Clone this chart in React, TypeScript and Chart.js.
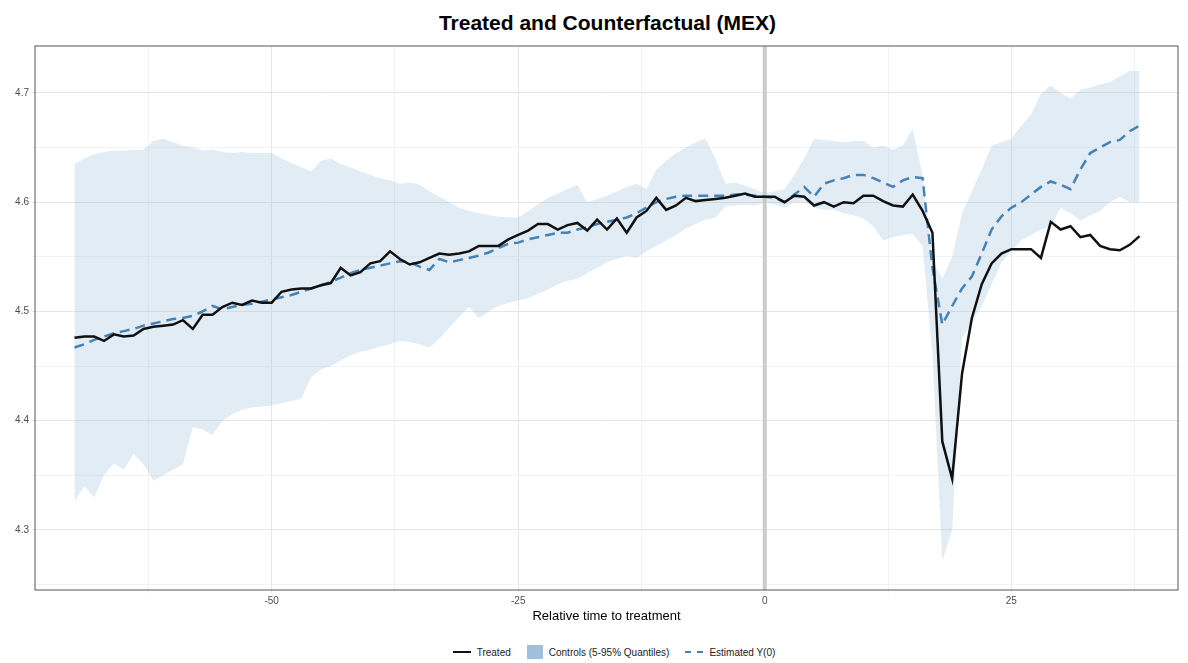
import { useEffect, useRef } from "react";
import { Chart, registerables } from "chart.js";

Chart.register(...registerables);

const times: number[] = [];
for (let t = -70; t <= 38; t++) times.push(t);

const treated = [
  4.476, 4.477, 4.477, 4.473, 4.479, 4.477, 4.478, 4.484, 4.486, 4.487,
  4.488, 4.492, 4.484, 4.497, 4.497, 4.504, 4.508, 4.506, 4.51, 4.508,
  4.508, 4.518, 4.52, 4.521, 4.521, 4.524, 4.526, 4.54, 4.533, 4.536,
  4.544, 4.546, 4.555, 4.548, 4.543, 4.545, 4.549, 4.553, 4.552, 4.553,
  4.555, 4.56, 4.56, 4.56, 4.566, 4.57, 4.574, 4.58, 4.58, 4.575,
  4.579, 4.581, 4.574, 4.584, 4.575, 4.585, 4.572, 4.586, 4.592, 4.604,
  4.593, 4.597, 4.604, 4.601, 4.602, 4.603, 4.604, 4.606, 4.608, 4.605,
  4.605, 4.605, 4.6, 4.606, 4.605, 4.597, 4.6, 4.596, 4.6, 4.599,
  4.606, 4.606, 4.601, 4.597, 4.596, 4.607, 4.592, 4.572, 4.381, 4.347,
  4.443, 4.494, 4.525, 4.544, 4.553, 4.557, 4.557, 4.557, 4.549, 4.582,
  4.575, 4.578, 4.568, 4.57, 4.56, 4.557, 4.556, 4.561, 4.569,
];

const estimated = [
  4.467, 4.47, 4.474, 4.477, 4.48, 4.482, 4.484, 4.487, 4.489, 4.491,
  4.493, 4.494, 4.496, 4.5, 4.505, 4.502, 4.504, 4.506, 4.507, 4.509,
  4.511, 4.513, 4.515, 4.518, 4.521, 4.524, 4.527, 4.531, 4.535, 4.538,
  4.54, 4.542, 4.544, 4.546, 4.545, 4.541, 4.538, 4.548, 4.545, 4.547,
  4.549, 4.551, 4.554, 4.558, 4.562, 4.563, 4.566, 4.568, 4.57, 4.572,
  4.572, 4.575, 4.577, 4.58, 4.582, 4.584, 4.586, 4.59, 4.595, 4.6,
  4.603, 4.605, 4.606, 4.606, 4.606, 4.606, 4.606, 4.607, 4.607, 4.606,
  4.605, 4.604, 4.6, 4.607, 4.614, 4.605, 4.617, 4.62, 4.622, 4.625,
  4.625, 4.622, 4.618, 4.614, 4.62, 4.623, 4.622, 4.54, 4.488, 4.505,
  4.521, 4.532, 4.553, 4.575, 4.587, 4.595, 4.6, 4.607, 4.614, 4.619,
  4.616, 4.612, 4.63, 4.645, 4.65, 4.655, 4.657, 4.665, 4.67,
];

const upper = [
  4.635, 4.64, 4.644, 4.646, 4.647, 4.647, 4.648, 4.648, 4.656, 4.658,
  4.655, 4.652, 4.65, 4.647, 4.648, 4.646, 4.645, 4.646, 4.645, 4.645,
  4.645, 4.64, 4.636, 4.632, 4.628, 4.638, 4.64, 4.635, 4.632, 4.628,
  4.625, 4.622, 4.62, 4.617, 4.618, 4.616, 4.61, 4.605, 4.6, 4.595,
  4.592, 4.59, 4.588, 4.587, 4.586, 4.586, 4.592, 4.598, 4.604, 4.608,
  4.612, 4.616, 4.6, 4.603, 4.606, 4.61, 4.614, 4.617, 4.612, 4.63,
  4.638, 4.645, 4.65, 4.655, 4.658, 4.64, 4.617, 4.618, 4.615, 4.612,
  4.608, 4.61, 4.612, 4.625, 4.64, 4.658, 4.657, 4.656, 4.655, 4.656,
  4.656, 4.65, 4.652, 4.648, 4.652, 4.667, 4.625, 4.546, 4.53, 4.55,
  4.59, 4.61, 4.63, 4.652, 4.655, 4.658, 4.67, 4.68, 4.699, 4.707,
  4.7, 4.695, 4.703, 4.705, 4.708, 4.71, 4.715, 4.72, 4.72,
];

const lower = [
  4.326, 4.34, 4.33, 4.35, 4.361, 4.355, 4.37, 4.36, 4.345, 4.35,
  4.355, 4.36, 4.394, 4.392, 4.387, 4.4, 4.406, 4.41, 4.412, 4.413,
  4.414, 4.416, 4.418, 4.42, 4.44, 4.447, 4.45, 4.455, 4.46, 4.463,
  4.465, 4.468, 4.47, 4.473, 4.472, 4.47, 4.467, 4.475, 4.485, 4.495,
  4.504, 4.494, 4.5, 4.505, 4.508, 4.51, 4.512, 4.516, 4.52, 4.525,
  4.528, 4.53, 4.535, 4.54, 4.545, 4.548, 4.551, 4.549, 4.555, 4.56,
  4.565, 4.57, 4.576, 4.58, 4.584, 4.586, 4.596, 4.597, 4.598, 4.597,
  4.6, 4.598, 4.595, 4.6, 4.6, 4.595, 4.593, 4.593, 4.59, 4.588,
  4.585, 4.578, 4.565, 4.568, 4.57, 4.571, 4.56, 4.46, 4.272, 4.3,
  4.476, 4.49, 4.505, 4.525, 4.545, 4.555, 4.565, 4.57, 4.575, 4.578,
  4.595, 4.59, 4.583, 4.588, 4.592, 4.6, 4.605, 4.6, 4.6,
];

const FONT = "'Liberation Sans', Arial, sans-serif";

const treatmentLine = {
  id: "treatmentLine",
  beforeDatasetsDraw(chart: Chart) {
    const { ctx, chartArea, scales } = chart;
    const x = scales.x.getPixelForValue(0);
    ctx.save();
    ctx.strokeStyle = "#cccccc";
    ctx.lineWidth = 4;
    ctx.beginPath();
    ctx.moveTo(x, chartArea.top);
    ctx.lineTo(x, chartArea.bottom);
    ctx.stroke();
    ctx.restore();
  },
  afterDraw(chart: Chart) {
    const { ctx, chartArea } = chart;
    ctx.save();
    ctx.strokeStyle = "#555555";
    ctx.lineWidth = 1;
    ctx.strokeRect(chartArea.left, chartArea.top, chartArea.right - chartArea.left, chartArea.bottom - chartArea.top);
    ctx.restore();
  },
};

export default function App() {
  const canvasRef = useRef<HTMLCanvasElement>(null);
  const chartRef = useRef<Chart | null>(null);

  useEffect(() => {
    if (!canvasRef.current) return;
    if (chartRef.current) chartRef.current.destroy();

    const pts = (vals: number[]) => times.map((t, i) => ({ x: t, y: vals[i] }));

    chartRef.current = new Chart(canvasRef.current, {
      type: "line",
      data: {
        datasets: [
          {
            label: "upper",
            data: pts(upper),
            borderWidth: 0,
            pointRadius: 0,
            backgroundColor: "rgba(158,192,221,0.3)",
            fill: "+1",
            order: 4,
          },
          {
            label: "lower",
            data: pts(lower),
            borderWidth: 0,
            pointRadius: 0,
            fill: false,
            order: 3,
          },
          {
            label: "Estimated Y(0)",
            data: pts(estimated),
            borderColor: "#4682b4",
            borderWidth: 2.5,
            borderDash: [10, 6],
            pointRadius: 0,
            fill: false,
            order: 2,
          },
          {
            label: "Treated",
            data: pts(treated),
            borderColor: "#111111",
            borderWidth: 2.5,
            pointRadius: 0,
            fill: false,
            order: 1,
          },
        ],
      },
      options: {
        animation: false,
        responsive: true,
        maintainAspectRatio: false,
        layout: { padding: { left: 0, right: 2, top: 0, bottom: 0 } },
        plugins: { legend: { display: false }, tooltip: { enabled: false } },
        scales: {
          x: {
            type: "linear",
            min: -74,
            max: 41.9,
            afterFit: (s: any) => { s.height = 34; },
            afterBuildTicks: (s: any) => {
              const t = [];
              for (let v = -62.5; v <= 40; v += 12.5) t.push({ value: v });
              s.ticks = t;
            },
            ticks: {
              color: "#4d4d4d",
              font: { family: FONT, size: 10 },
              maxRotation: 0,
              autoSkip: false,
              padding: 2,
              callback: (v: any) => (Math.abs(v % 25) < 1e-6 ? String(v) : ""),
            },
            grid: {
              color: (c: any) => (Math.abs((c.tick?.value ?? 0) % 25) < 1e-6 ? "#e6e6e6" : "#f3f3f3"),
              drawTicks: true,
              tickLength: 3,
            },
            border: { display: false },
            title: {
              display: true,
              text: "Relative time to treatment",
              color: "#000",
              font: { family: FONT, size: 13 },
              padding: { top: 0, bottom: 0 },
            },
          },
          y: {
            type: "linear",
            min: 4.245,
            max: 4.743,
            afterFit: (s: any) => { s.width = 27; },
            afterBuildTicks: (s: any) => {
              const t = [];
              for (let v = 4.25; v <= 4.74; v += 0.05) t.push({ value: Math.round(v * 100) / 100 });
              s.ticks = t;
            },
            ticks: {
              color: "#4d4d4d",
              font: { family: FONT, size: 10 },
              autoSkip: false,
              callback: (v: any) => (Math.round(v * 100) % 10 === 0 ? Number(v).toFixed(1) : ""),
            },
            grid: {
              color: (c: any) => (Math.round((c.tick?.value ?? 0) * 100) % 10 === 0 ? "#e6e6e6" : "#f3f3f3"),
              tickLength: 3,
            },
            border: { display: false },
          },
        },
      },
      plugins: [treatmentLine],
    });

    return () => {
      if (chartRef.current) chartRef.current.destroy();
    };
  }, []);

  const item = { display: "flex", alignItems: "center", gap: 6, margin: "0 8px" } as const;

  return (
    <div style={{ width: 1172, fontFamily: FONT }}>
      <div style={{ height: 29, paddingLeft: 27, display: "flex", alignItems: "center", justifyContent: "center", fontSize: 21, fontWeight: "bold" }}>
        Treated and Counterfactual (MEX)
      </div>
      <div style={{ height: 587, position: "relative" }}>
        <canvas ref={canvasRef} />
      </div>
      <div style={{ height: 56, paddingLeft: 40, display: "flex", alignItems: "center", justifyContent: "center", fontSize: 10, color: "#222" }}>
        <div style={item}>
          <span style={{ width: 18, borderTop: "2.5px solid #111" }} />Treated
        </div>
        <div style={item}>
          <span style={{ width: 16, height: 14, background: "#9fc0dd" }} />Controls (5-95% Quantiles)
        </div>
        <div style={item}>
          <span style={{ width: 18, borderTop: "2.5px dashed #4682b4" }} />Estimated Y(0)
        </div>
      </div>
    </div>
  );
}
